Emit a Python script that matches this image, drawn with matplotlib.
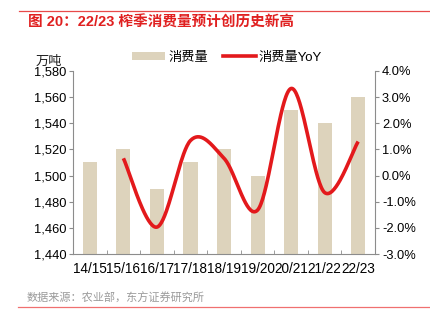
import numpy as np
import matplotlib.pyplot as plt
from matplotlib.lines import Line2D
from matplotlib.patches import Patch

plt.rcParams["font.family"] = ["Liberation Sans", "Noto Sans CJK SC", "DejaVu Sans"]

# 榨季与消费量（万吨）
seasons = ["14/15", "15/16", "16/17", "17/18", "18/19", "19/20", "20/21", "21/22", "22/23"]
consumption = [1510, 1520, 1490, 1510, 1520, 1500, 1550, 1540, 1560]
# 消费量同比（%），首个榨季无数据
yoy = [None, 0.66, -1.97, 1.34, 0.66, -1.32, 3.33, -0.65, 1.30]

BAR_COLOR = "#DDD3BC"
LINE_COLOR = "#E3191C"
AXIS_COLOR = "#8C8C8C"


def smooth_curve(xs, ys, steps=40):
    """平滑折线（三次贝塞尔，控制点取相邻点差的 1/6）"""
    pts = np.column_stack([xs, ys]).astype(float)
    n = len(pts)
    out = []
    for i in range(n - 1):
        p0 = pts[max(i - 1, 0)]
        p1 = pts[i]
        p2 = pts[i + 1]
        p3 = pts[min(i + 2, n - 1)]
        c1 = p1 + (p2 - p0) / 6.0
        c2 = p2 - (p3 - p1) / 6.0
        t = np.linspace(0, 1, steps)[:, None]
        seg = ((1 - t) ** 3) * p1 + 3 * ((1 - t) ** 2) * t * c1 \
            + 3 * (1 - t) * t ** 2 * c2 + t ** 3 * p2
        out.append(seg if i == 0 else seg[1:])
    curve = np.vstack(out)
    return curve[:, 0], curve[:, 1]


fig = plt.figure(figsize=(4.30, 3.24), dpi=100)
ax = fig.add_axes([0.170, 0.216, 0.702, 0.565])
ax2 = ax.twinx()

x = np.arange(len(seasons))
ax.bar(x, consumption, width=0.42, color=BAR_COLOR, zorder=1)
ax.set_ylim(1440, 1580)
ax.set_yticks(np.arange(1440, 1581, 20))
ax.set_yticklabels([f"{v:,}" for v in range(1440, 1581, 20)])
ax.set_xlim(-0.5, len(seasons) - 0.5)
ax.set_xticks(x)
ax.set_xticklabels(seasons)
ax.set_xticks(np.arange(0.5, len(seasons) - 1, 1), minor=True)
ax.tick_params(axis="x", which="major", length=0, pad=6, labelsize=9.8)
ax.tick_params(axis="x", which="minor", direction="in", length=3, color=AXIS_COLOR)
ax.tick_params(axis="y", direction="out", length=3, color=AXIS_COLOR, labelsize=9.3, pad=2)

ix = [i for i, v in enumerate(yoy) if v is not None]
iv = [yoy[i] for i in ix]
sx, sy = smooth_curve(ix, iv)
ax2.plot(sx, sy, color=LINE_COLOR, lw=2.6, solid_capstyle="butt", zorder=3)
ax2.set_ylim(-3, 4)
ax2.set_yticks(np.arange(-3, 4.01, 1))
ax2.set_yticklabels([f"{v:.1f}%" for v in np.arange(-3, 4.01, 1)])
ax2.tick_params(axis="y", direction="out", length=3, color=AXIS_COLOR, labelsize=9.3, pad=2)

for a in (ax, ax2):
    a.spines["top"].set_visible(False)
    for s in ("left", "right", "bottom"):
        a.spines[s].set_color(AXIS_COLOR)
        a.spines[s].set_linewidth(0.8)
ax.spines["right"].set_visible(False)
ax2.spines["left"].set_visible(False)
ax2.spines["bottom"].set_visible(False)

# 图例
handles = [Patch(facecolor=BAR_COLOR, edgecolor="none"),
           Line2D([0], [0], color=LINE_COLOR, lw=2.6)]
fig.legend(handles, ["消费量", "消费量YoY"], loc="center", ncol=2,
           bbox_to_anchor=(0.528, 0.822), frameon=False, fontsize=9.5,
           handlelength=2.5, handleheight=0.5, columnspacing=1.1, handletextpad=0.25)

fig.text(0.083, 0.810, "万吨", fontsize=9.5, color="#222222", va="center")

# 标题与来源
fig.text(0.066, 0.930, "图 20：22/23 榨季消费量预计创历史新高", fontsize=10.5,
         color="#E02020", fontweight="bold", va="center")
fig.add_artist(Line2D([0.044, 1.0], [0.966, 0.966], color="#E84A4A", lw=0.9))
fig.text(0.063, 0.080, "数据来源：农业部，东方证券研究所", fontsize=8,
         color="#9A9A9A", va="center")
fig.add_artist(Line2D([0.042, 1.0], [0.052, 0.052], color="#F07070", lw=0.9))

fig.savefig("out.png", dpi=100)
